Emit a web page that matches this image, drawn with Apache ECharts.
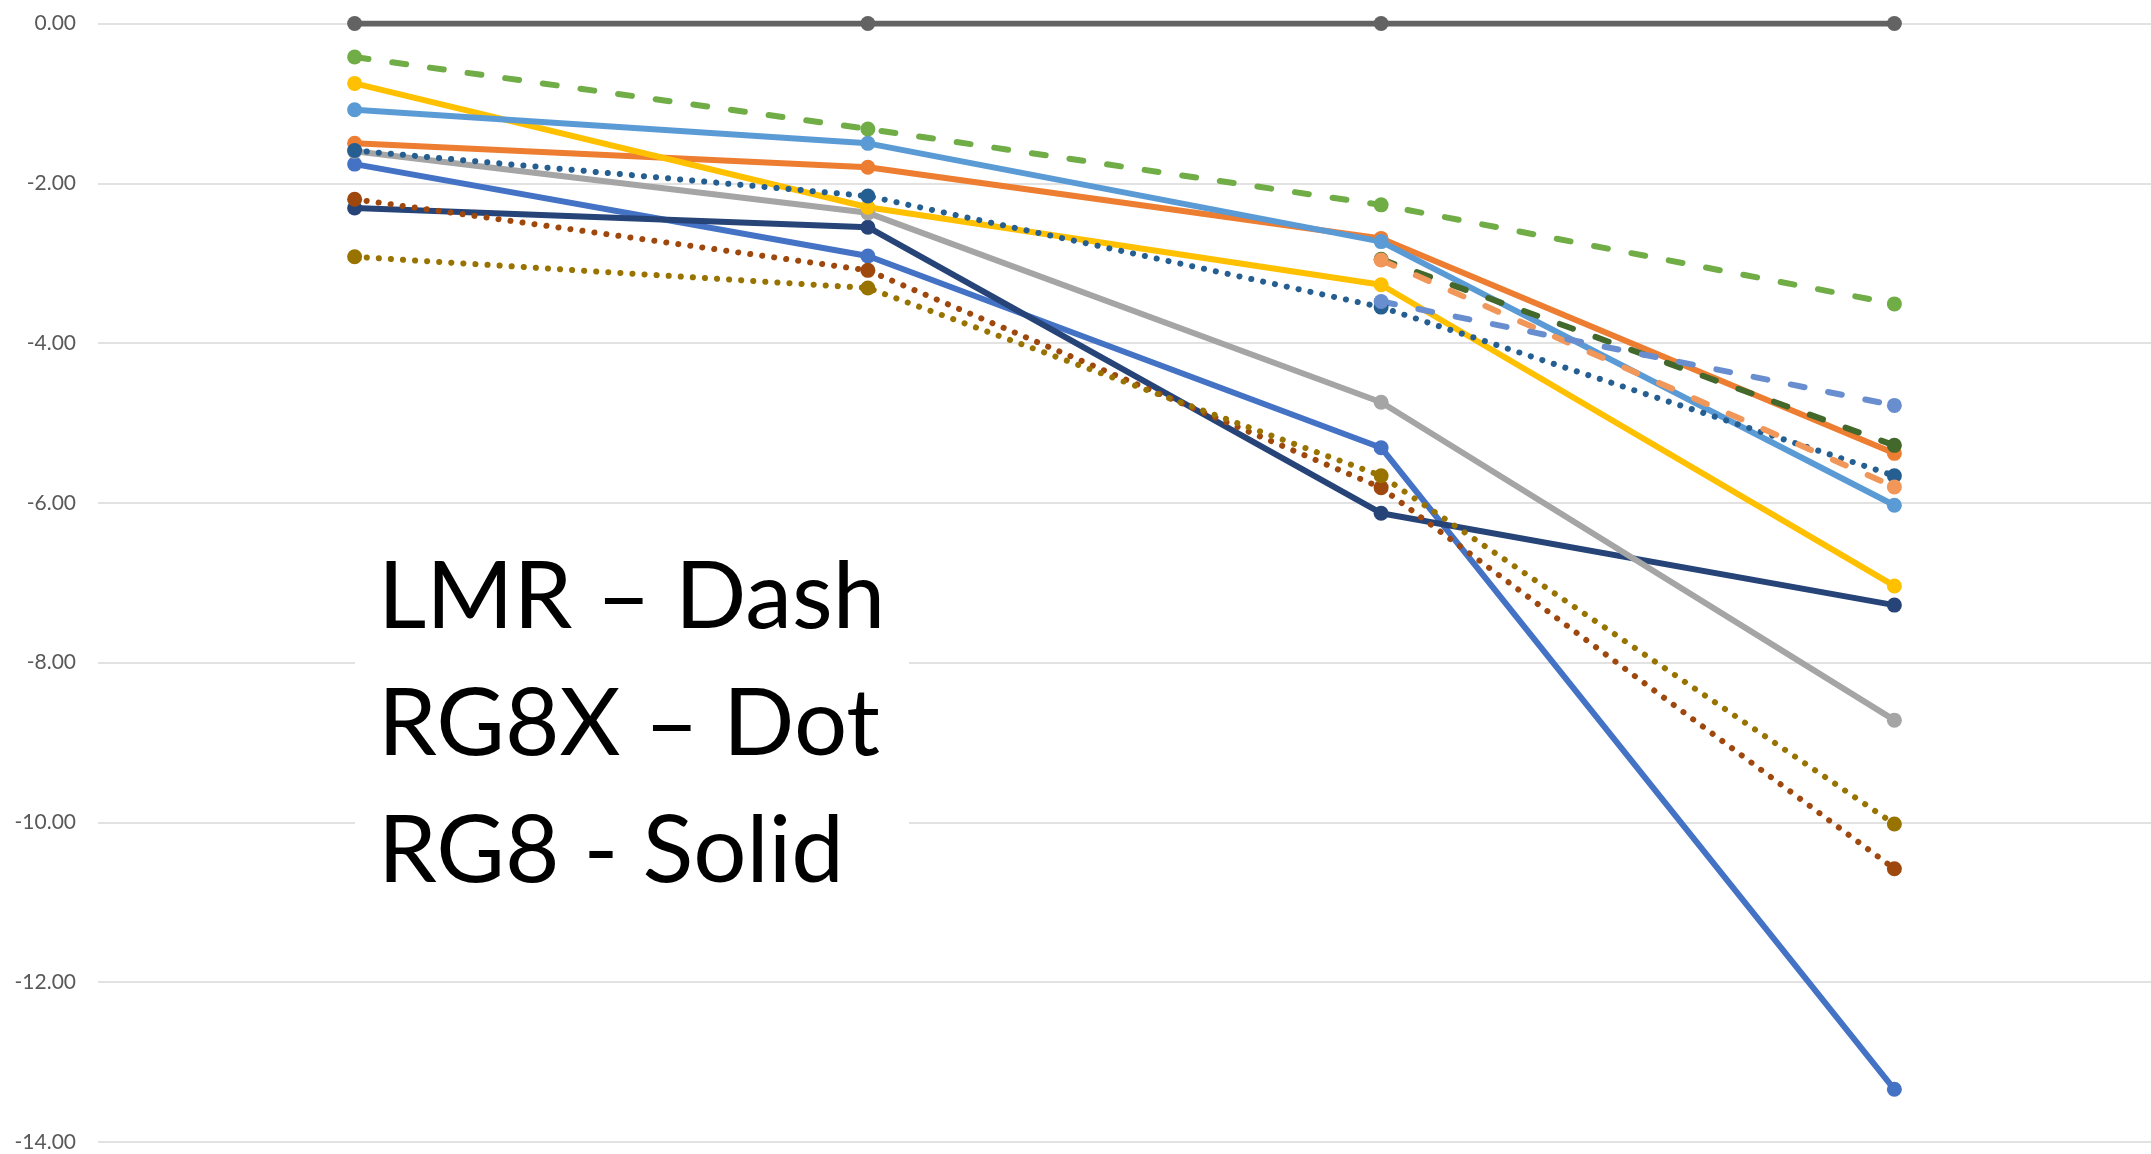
<!DOCTYPE html>
<html>
<head>
<meta charset="utf-8">
<script src="https://cdn.jsdelivr.net/npm/echarts@6/dist/echarts.min.js"></script>
<style>
html,body{margin:0;padding:0;background:#fff;}
#chart{width:2151px;height:1154px;}
</style>
</head>
<body>
<div id="chart"></div>
<script>
// ---- data ----
const categories = ['1', '2', '3', '4'];
const yTicks = [0, -2, -4, -6, -8, -10, -12, -14];

const refGray      = [0, 0, 0, 0];
const rg8Blue      = [-1.76, -2.91, -5.31, -13.34];
const rg8Navy      = [-2.31, -2.55, -6.13, -7.28];
const rg8Gray      = [-1.60, -2.37, -4.74, -8.72];
const rg8Orange    = [-1.50, -1.80, -2.69, -5.38];
const rg8Yellow    = [-0.75, -2.30, -3.27, -7.04];
const rg8LightBlue = [-1.08, -1.50, -2.73, -6.03];
const rg8xBrown    = [-2.20, -3.09, -5.81, -10.58];
const rg8xOlive    = [-2.92, -3.31, -5.66, -10.02];
const rg8xDarkBlue = [-1.59, -2.16, -3.55, -5.66];
const lmrGreen     = [-0.42, -1.32, -2.27, -3.51];
const lmrDarkGreen = [null, null, -2.95, -5.28];
const lmrLightOrange = [null, null, -2.96, -5.80];
const lmrPurple    = [null, null, -3.48, -4.78];

const noteLines = ['LMR – Dash', 'RG8X – Dot', 'RG8 - Solid'];

// ---- styles ----
const W = 6;
const solid = 'solid';
const dot = [0.1, 12];
const dash = [14, 24];

function mk(name, data, color, type) {
  return {
    name: name,
    type: 'line',
    data: data,
    symbol: 'circle',
    symbolSize: 15,
    showSymbol: true,
    connectNulls: false,
    itemStyle: { color: color },
    lineStyle: { color: color, width: W, type: type, cap: 'round' },
    emphasis: { disabled: true }
  };
}

const series = [
  mk('ref', refGray, '#636363', solid),
  mk('rg8Blue', rg8Blue, '#4472C4', solid),
  mk('rg8Navy', rg8Navy, '#264478', solid),
  mk('rg8Gray', rg8Gray, '#A5A5A5', solid),
  mk('rg8Orange', rg8Orange, '#ED7D31', solid),
  mk('rg8Yellow', rg8Yellow, '#FFC000', solid),
  mk('rg8LightBlue', rg8LightBlue, '#5B9BD5', solid),
  mk('rg8xBrown', rg8xBrown, '#9E480E', dot),
  mk('rg8xOlive', rg8xOlive, '#997300', dot),
  mk('rg8xDarkBlue', rg8xDarkBlue, '#255E91', dot),
  mk('lmrGreen', lmrGreen, '#70AD47', dash),
  mk('lmrDarkGreen', lmrDarkGreen, '#43682B', dash),
  mk('lmrLightOrange', lmrLightOrange, '#F1975A', dash),
  mk('lmrPurple', lmrPurple, '#698ED0', dash)
];

const chart = echarts.init(document.getElementById('chart'));
chart.setOption({
  animation: false,
  backgroundColor: '#ffffff',
  grid: { left: 98, width: 2058, top: 23.5, bottom: 12, containLabel: false },
  xAxis: {
    type: 'category',
    data: categories,
    boundaryGap: true,
    axisLine: { show: false },
    axisTick: { show: false },
    axisLabel: { show: false },
    splitLine: { show: false }
  },
  yAxis: {
    type: 'value',
    min: yTicks[yTicks.length - 1],
    max: yTicks[0],
    interval: 2,
    axisLine: { show: false },
    axisTick: { show: false },
    axisLabel: {
      margin: 22,
      color: '#595959',
      fontSize: 21,
      fontFamily: 'Lato, "Open Sans", sans-serif',
      formatter: function (v) { return v.toFixed(2); }
    },
    splitLine: { show: true, lineStyle: { color: '#D9D9D9', width: 1.5 } }
  },
  series: series,
  graphic: [
    {
      type: 'rect',
      z: 100,
      shape: { x: 355, y: 535, width: 554, height: 370 },
      style: { fill: '#ffffff' }
    },
    {
      type: 'text', z: 101, left: 378, top: 551,
      style: { text: noteLines[0], font: '94px Lato', fill: '#000000' }
    },
    {
      type: 'text', z: 101, left: 378, top: 678,
      style: { text: noteLines[1], font: '94px Lato', fill: '#000000' }
    },
    {
      type: 'text', z: 101, left: 378, top: 805,
      style: { text: noteLines[2], font: '94px Lato', fill: '#000000' }
    }
  ]
});
</script>
</body>
</html>
